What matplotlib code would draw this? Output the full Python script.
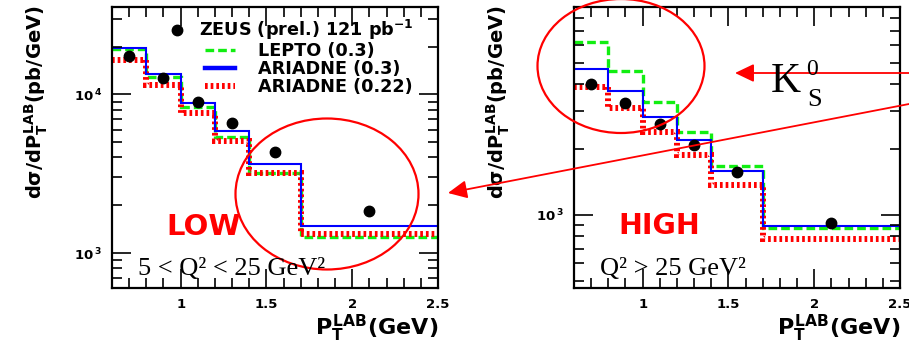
import numpy as np
import matplotlib
matplotlib.use("Agg")
import matplotlib.pyplot as plt
from matplotlib.lines import Line2D
from matplotlib.patches import Ellipse, FancyArrowPatch
from matplotlib.ticker import LogLocator, NullFormatter, MultipleLocator, FuncFormatter

plt.rcParams['font.family'] = 'DejaVu Sans'
plt.rcParams['font.weight'] = 'bold'
plt.rcParams['axes.labelweight'] = 'bold'
plt.rcParams['mathtext.fontset'] = 'custom'
plt.rcParams['mathtext.rm'] = 'DejaVu Sans:bold'
plt.rcParams['mathtext.it'] = 'DejaVu Sans:bold'
plt.rcParams['mathtext.bf'] = 'DejaVu Sans:bold'

# bin edges and data point positions in P_T (GeV)
edges = [0.6, 0.8, 1.0, 1.2, 1.4, 1.7, 2.5]
centres = [0.7, 0.9, 1.1, 1.3, 1.55, 2.1]
xtick_vals = [1, 1.5, 2, 2.5]
xtick_labels = ['1', '1.5', '2', '2.5']

# low Q2 panel (pb/GeV)
low_zeus = [17400, 12700, 8990, 6580, 4320, 1830]
low_lepto = [19200, 12800, 8280, 5370, 3210, 1270]
low_ariadne_03 = [19500, 13400, 8870, 5880, 3650, 1490]
low_ariadne_022 = [16400, 11450, 7590, 5090, 3190, 1320]

# high Q2 panel (pb/GeV)
high_zeus = [3990, 3250, 2610, 2090, 1570, 915]
high_lepto = [6190, 4590, 3310, 2410, 1680, 869]
high_ariadne_03 = [4660, 3710, 2810, 2210, 1590, 887]
high_ariadne_022 = [3880, 3080, 2410, 1880, 1370, 773]

RED = '#ff0000'
GREEN = '#11ee11'
BLUE = '#0000ff'

W, H = 909, 349
fig = plt.figure(figsize=(W / 100, H / 100), dpi=100)


def fx(x):
    return x / W


def fy(y):
    return 1 - y / H


def draw_panel(left, zeus, lepto, ar03, ar022, ylim):
    ax = fig.add_axes([fx(left), fy(288), 326 / W, 281 / H])
    ax.set_yscale('log')
    ax.stairs(lepto, edges, baseline=None, color=GREEN, lw=2.4,
              linestyle=(0, (2.6, 1.2)))
    ax.stairs(ar022, edges, baseline=None, color=RED, lw=4.3,
              linestyle=(0, (0.45, 0.5)))
    ax.stairs(ar03, edges, baseline=None, color=BLUE, lw=1.5)
    ax.plot(centres, zeus, 'o', color='black', ms=7.5, zorder=5)

    ax.set_xlim(0.6, 2.5)
    ax.set_ylim(*ylim)
    ax.set_xticks(xtick_vals)
    ax.set_xticklabels(xtick_labels)
    ax.xaxis.set_minor_locator(MultipleLocator(0.1))
    ax.yaxis.set_major_locator(LogLocator(base=10, numticks=10))
    ax.yaxis.set_minor_locator(LogLocator(base=10, subs=np.arange(2, 10), numticks=20))
    ax.yaxis.set_major_formatter(FuncFormatter(lambda v, _: r'$10^{\,%d}$' % round(np.log10(v))))
    ax.yaxis.set_minor_formatter(NullFormatter())
    ax.tick_params(which='both', direction='in', top=True, right=True, width=1.2)
    ax.tick_params(which='major', length=14, labelsize=9.5, pad=7)
    ax.tick_params(which='minor', length=7)
    for s in ax.spines.values():
        s.set_linewidth(1.6)

    ax.set_ylabel(r'$d\sigma/dP_T^{LAB}$(pb/GeV)', fontsize=14)
    ax.yaxis.set_label_coords(-0.19, 0.66)
    ax.set_xlabel(r'$P_T^{LAB}$(GeV)', fontsize=16, loc='right')
    ax.xaxis.set_label_coords(1.0, -0.09)
    return ax


ax1 = draw_panel(112, low_zeus, low_lepto, low_ariadne_03, low_ariadne_022, (602, 35500))
ax2 = draw_panel(574, high_zeus, high_lepto, high_ariadne_03, high_ariadne_022, (462, 8990))

# legend in the left panel
h_zeus = Line2D([], [], ls='none', marker='o', color='black', ms=7.5)
leg1 = ax1.legend([h_zeus], [r'ZEUS (prel.) 121 pb$^{-1}$'], loc='center left',
                  bbox_to_anchor=((168 - 112) / 326, (288 - 30) / 281),
                  frameon=False, fontsize=12.7, handlelength=1.0, handletextpad=0.74,
                  borderpad=0, borderaxespad=0)
ax1.add_artist(leg1)
h_lepto = Line2D([], [], color=GREEN, lw=2.4, ls=(0, (2.6, 1.2)))
h_ar03 = Line2D([], [], color=BLUE, lw=3.2)
h_ar022 = Line2D([], [], color=RED, lw=4.3, ls=(0, (0.45, 0.5)))
ax1.legend([h_lepto, h_ar03, h_ar022], ['LEPTO (0.3)', 'ARIADNE (0.3)', 'ARIADNE (0.22)'],
           loc='center left', bbox_to_anchor=((205 - 112) / 326, (288 - 69.5) / 281),
           frameon=False, fontsize=12.7, handlelength=1.7, handletextpad=1.3,
           labelspacing=0.0, borderpad=0, borderaxespad=0)

# region labels
fig.text(fx(166), fy(235), 'LOW', color=RED, fontsize=21, fontweight='bold', va='baseline')
fig.text(fx(618), fy(234), 'HIGH', color=RED, fontsize=20.5, fontweight='bold', va='baseline')
fig.text(fx(138), fy(275), '5 < Q² < 25 GeV²', family='Liberation Serif',
         fontweight='normal', fontsize=19, va='baseline')
fig.text(fx(600), fy(275), 'Q² > 25 GeV²', family='Liberation Serif',
         fontweight='normal', fontsize=19, va='baseline')

# K0S label
fig.text(fx(771), fy(92), 'K', family='Liberation Serif', fontweight='normal',
         fontsize=30, va='baseline')
fig.text(fx(806), fy(75), '0', family='Liberation Serif', fontweight='normal',
         fontsize=17, va='baseline')
fig.text(fx(807), fy(106), 'S', family='Liberation Serif', fontweight='normal',
         fontsize=19, va='baseline')

# circles and arrows
fig.add_artist(Ellipse((fx(327), fy(194)), 183 / W, 151 / H, transform=fig.transFigure,
                       fill=False, edgecolor=RED, lw=1.6))
fig.add_artist(Ellipse((fx(621), fy(66)), 167 / W, 134 / H, transform=fig.transFigure,
                       fill=False, edgecolor=RED, lw=1.6))
for (xa, ya), (xb, yb) in [((909, 73), (735, 73)), ((909, 104), (448, 193))]:
    fig.add_artist(FancyArrowPatch((fx(xa), fy(ya)), (fx(xb), fy(yb)),
                                   transform=fig.transFigure,
                                   arrowstyle='-|>,head_length=1.15,head_width=0.55',
                                   mutation_scale=10, color=RED, lw=1.3,
                                   shrinkA=0, shrinkB=0))

fig.savefig('out.png', dpi=100)
